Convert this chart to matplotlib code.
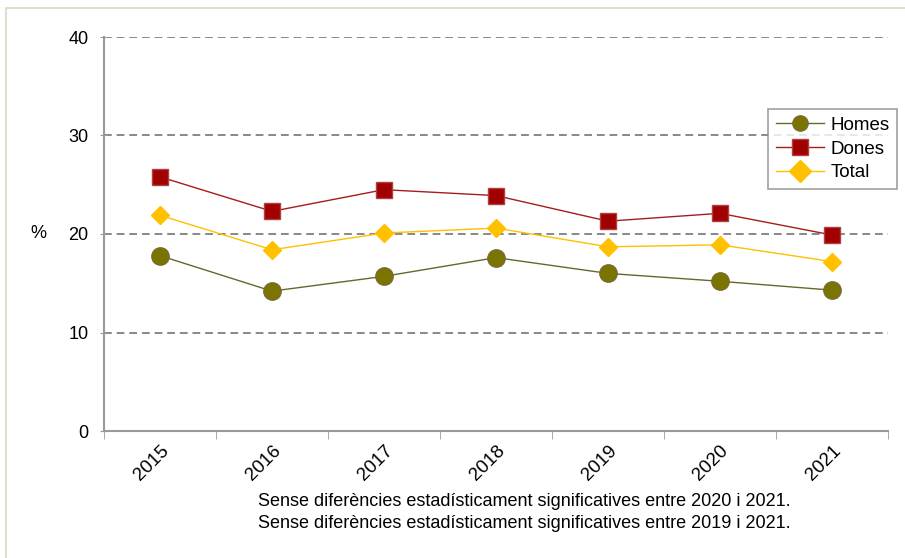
import matplotlib.pyplot as plt
from matplotlib.patches import Rectangle

plt.rcParams['font.family'] = ['Liberation Sans', 'DejaVu Sans']

years = ["2015", "2016", "2017", "2018", "2019", "2020", "2021"]
homes = [17.8, 14.2, 15.7, 17.6, 16.0, 15.2, 14.3]
dones = [25.8, 22.3, 24.5, 23.9, 21.3, 22.1, 19.9]
total = [21.9, 18.4, 20.1, 20.6, 18.7, 18.9, 17.2]
notes = ["Sense diferències estadísticament significatives entre 2020 i 2021.",
         "Sense diferències estadísticament significatives entre 2019 i 2021."]

fig = plt.figure(figsize=(9.05, 5.58), dpi=100)
fig.patches.append(Rectangle((6 / 905, -0.1), 1.1, 1 - 8 / 558 + 0.1, transform=fig.transFigure,
                             fill=False, edgecolor='#ddd8bc', linewidth=1.2))
ax = fig.add_axes([104 / 905, 1 - 431 / 558, 784 / 905, 394 / 558])

x = list(range(len(years)))
ax.plot(x, homes, color='#5f6b2d', lw=1, marker='o', ms=12.5, mfc='#7a7400', mec='#7a6a30',
        label='Homes', zorder=3)
ax.plot(x, dones, color='#a61c1c', lw=1, marker='s', ms=11.5, mfc='#a00000', mec='#b04040',
        label='Dones', zorder=3)
ax.plot(x, total, color='#ffc000', lw=1, marker='D', ms=9.5, mfc='#ffc000', mec='#ffc000',
        label='Total', zorder=3)

ax.set_xlim(-0.5, len(years) - 0.5)
ax.set_ylim(0, 40)
ax.set_yticks([0, 10, 20, 30, 40])
ax.set_xticks(x)
ax.set_xticklabels(years, rotation=45, ha='right', rotation_mode='anchor')
ax.set_xticks([i - 0.5 for i in range(len(years) + 1)], minor=True)
ax.tick_params(axis='x', which='major', length=0, labelsize=13.5, pad=8)
ax.tick_params(axis='x', which='minor', length=6, color='#999999', direction='out')
ax.tick_params(axis='y', length=6, color='#999999', labelsize=13, direction='inout', pad=8)
for yv in [10, 20, 30, 40]:
    ax.axhline(yv, color='#888888', lw=1.4, ls=(0, (4, 2.5)), zorder=1)

for s in ['top', 'right']:
    ax.spines[s].set_visible(False)
for s in ['left', 'bottom']:
    ax.spines[s].set_color('#999999')
    ax.spines[s].set_linewidth(1.5)

ax.set_ylabel('%', rotation=0, fontsize=13, labelpad=22, va='center')

leg = ax.legend(loc='upper left', bbox_to_anchor=((768 - 104) / 784, (431 - 109) / 394),
                frameon=True, fancybox=False, edgecolor='#888888', fontsize=13.5,
                handlelength=2.6, borderpad=0.4, labelspacing=0.36, handletextpad=0.35,
                borderaxespad=0)
leg.get_frame().set_linewidth(1.2)
for h in leg.legend_handles:
    h.set_markersize(11)

fig.text(524 / 905, 1 - 502 / 558, notes[0], ha='center', va='center', fontsize=13)
fig.text(524 / 905, 1 - 524 / 558, notes[1], ha='center', va='center', fontsize=13)

fig.savefig('out.png', dpi=100)
